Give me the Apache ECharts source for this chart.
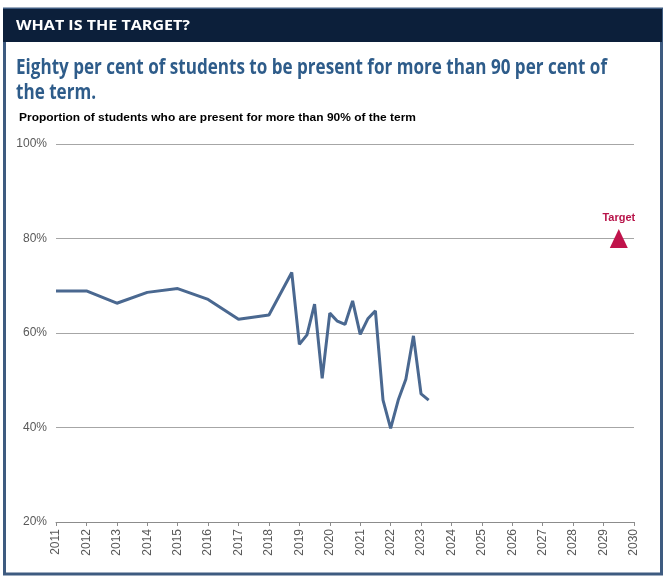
<!DOCTYPE html>
<html><head><meta charset="utf-8">
<script src="https://cdn.jsdelivr.net/npm/echarts@6/dist/echarts.min.js"></script>
<style>html,body{margin:0;padding:0;background:#fff}#c{width:666px;height:579px}</style>
</head><body><div id="c"></div>
<script>
var headerText = "WHAT IS THE TARGET?";
var titleLines = ["Eighty per cent of students to be present for more than 90 per cent of", "the term."];
var subtitle = "Proportion of students who are present for more than 90% of the term";
var years = [2011, 2012, 2013, 2014, 2015, 2016, 2017, 2018, 2018.75, 2019, 2019.25, 2019.5, 2019.75, 2020, 2020.25, 2020.5, 2020.75, 2021, 2021.25, 2021.5, 2021.75, 2022, 2022.25, 2022.5, 2022.75, 2023, 2023.25];
var values = [68.9, 68.9, 66.3, 68.6, 69.4, 67.1, 62.9, 63.8, 72.8, 57.6, 59.6, 66.1, 50.4, 64.2, 62.5, 61.8, 66.8, 59.7, 63.0, 64.7, 45.8, 39.8, 45.8, 50.2, 59.4, 47.1, 45.8];
var targetYear = [2029.5];
var targetValue = [80];
var targetLabel = "Target";

function fitScale(text, font, width) {
  var ctx = document.createElement('canvas').getContext('2d');
  ctx.font = font;
  return width / ctx.measureText(text).width;
}
var headerFont = 'bold 15px "Open Sans", sans-serif';
var titleFont = 'bold 21px "Open Sans", sans-serif';
var subFont = 'bold 11px "Liberation Sans", Arial, sans-serif';
var hs = fitScale(headerText, headerFont, 174);
var ts = fitScale(titleLines[0], titleFont, 591);
var ss = fitScale(subtitle, subFont, 397);

var chart = echarts.init(document.getElementById('c'), null, {renderer: 'canvas'});
var lineData = years.map(function (y, i) { return [y, values[i]]; });
var option = {
  animation: false,
  backgroundColor: '#ffffff',
  graphic: [
    {type: 'rect', shape: {x: 4.5, y: 9, width: 657, height: 565}, style: {fill: '#fff', stroke: '#3e5b80', lineWidth: 3}, z: -10},
    {type: 'rect', shape: {x: 3, y: 9, width: 659, height: 33}, style: {fill: '#0c1f3a'}, z: -5},
    {type: 'text', x: 16, y: 18, scaleX: hs, style: {text: headerText, fill: '#ffffff', font: headerFont}},
    {type: 'text', x: 16, y: 56, scaleX: ts, style: {text: titleLines.join('\n'), fill: '#2e5c8a', font: titleFont, lineHeight: 25}},
    {type: 'text', x: 19, y: 112, scaleX: ss, style: {text: subtitle, fill: '#000', font: subFont}}
  ],
  grid: {left: 56, right: 32, top: 144, bottom: 57, containLabel: false},
  xAxis: {
    type: 'value', min: 2011, max: 2030, interval: 1,
    axisLine: {show: true, lineStyle: {color: '#8c8c8c', width: 1}},
    axisTick: {show: true, length: 4, lineStyle: {color: '#8c8c8c'}},
    splitLine: {show: false},
    axisLabel: {rotate: 90, margin: 7, color: '#595959', fontSize: 12, fontFamily: '"Liberation Sans", Arial, sans-serif', formatter: function (v) { return String(v); }}
  },
  yAxis: {
    type: 'value', min: 20, max: 100, interval: 20,
    axisLine: {show: false}, axisTick: {show: false},
    splitLine: {show: true, lineStyle: {color: '#a6a6a6', width: 1}},
    axisLabel: {margin: 9, color: '#595959', fontSize: 12, fontFamily: '"Liberation Sans", Arial, sans-serif', formatter: '{value}%'}
  },
  series: [
    {type: 'line', data: lineData, showSymbol: false, symbol: 'none', lineStyle: {color: '#4a6890', width: 3}, z: 3},
    {type: 'scatter', data: targetYear.map(function (y, i) { return [y, targetValue[i]]; }), symbol: 'triangle', symbolSize: [18, 19],
     itemStyle: {color: '#c0134b', opacity: 1},
     label: {show: true, position: 'top', distance: 6, formatter: targetLabel, color: '#b8144a', fontWeight: 'bold', fontSize: 11, fontFamily: '"Liberation Sans", Arial, sans-serif'}, z: 4}
  ]
};
chart.setOption(option);
</script></body></html>
